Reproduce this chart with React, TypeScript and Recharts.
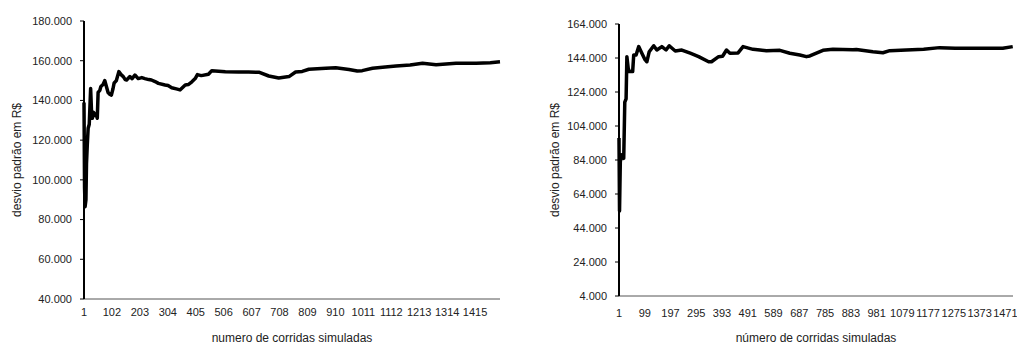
import React from "react";
import { LineChart, Line, XAxis, YAxis } from "recharts";

// ─── Data ─────────────────────────────────────────────────────────────────────

// left panel: run number vs standard deviation (R$)
const leftRuns = [
  1, 3, 5, 8, 10, 13, 16, 20, 25, 28, 31, 36, 40, 45, 49, 52, 58, 62, 70, 76,
  82, 88, 95, 100, 106, 110, 118, 127, 135, 143, 150, 155, 167, 175, 185, 197,
  210, 221, 235, 245, 258, 270, 294, 305, 318, 335, 348, 367, 378, 391, 403,
  411, 425, 451, 463, 512, 560, 596, 633, 669, 705, 742, 766, 790, 814, 875,
  911, 959, 989, 1007, 1044, 1090, 1129, 1180, 1225, 1274, 1346, 1419, 1470,
  1505,
];
const leftDesvio = [
  139000, 96000, 86500, 90000, 108000, 118000, 126000, 128000, 146000, 135000,
  131000, 134000, 132500, 133000, 131000, 144000, 145000, 147000, 148000,
  150000, 147000, 144000, 143000, 142700, 146000, 148800, 150000, 154500,
  153000, 152000, 150500, 150300, 152000, 151000, 152800, 151000, 151500,
  151000, 150500, 150300, 149500, 148600, 147800, 147500, 146400, 145800,
  145300, 147800, 148000, 149400, 151000, 153000, 152500, 153200, 155000,
  154500, 154300, 154300, 154200, 152300, 151300, 152000, 154300, 154600,
  155700, 156200, 156500, 155600, 154800, 155000, 156200, 156800, 157300,
  157800, 158700, 158000, 158700, 158700, 159000, 159500,
];
const leftXTicks = [
  1, 102, 203, 304, 405, 506, 607, 708, 809, 910, 1011, 1112, 1213, 1314, 1415,
];
const leftYTicks = [40000, 60000, 80000, 100000, 120000, 140000, 160000, 180000];

// right panel
const rightRuns = [
  1, 3, 6, 12, 19, 23, 28, 31, 36, 40, 53, 57, 66, 76, 88, 100, 107, 116, 133,
  145, 164, 180, 192, 215, 240, 272, 304, 342, 353, 380, 395, 410, 423, 454,
  473, 511, 537, 562, 613, 651, 689, 714, 727, 777, 815, 891, 904, 967, 1005,
  1031, 1094, 1160, 1221, 1280, 1347, 1400, 1461, 1499,
];
const rightDesvio = [
  97000, 54000, 83000, 87000, 85000, 118000, 120000, 144800, 138000, 136000,
  136000, 145800, 145800, 150700, 146800, 143000, 141800, 147700, 151200,
  148700, 150700, 148700, 151200, 148100, 148700, 146800, 144800, 141800,
  141800, 144800, 145000, 148700, 146800, 147000, 150700, 149100, 148700,
  148300, 148500, 146800, 145800, 144800, 145200, 148500, 149100, 148800,
  149000, 147700, 147100, 148300, 148700, 149200, 150100, 149800, 149700,
  149800, 149700, 150700,
];
const rightXTicks = [
  1, 99, 197, 295, 393, 491, 589, 687, 785, 883, 981, 1079, 1177, 1275, 1373,
  1471,
];
const rightYTicks = [
  4000, 24000, 44000, 64000, 84000, 104000, 124000, 144000, 164000,
];

// ─── Helpers ──────────────────────────────────────────────────────────────────

const FONT = "'Liberation Sans', Arial, sans-serif";

// 164000 -> "164.000"
function formatReais(v: number): string {
  return `${Math.round(v / 1000)}.000`;
}

function toRows(runs: number[], values: number[]) {
  return runs.map((run, i) => ({ run, desvio: values[i] }));
}

interface PanelProps {
  left: number;
  width: number;
  top: number;
  bottom: number;
  right: number;
  runs: number[];
  values: number[];
  xTicks: number[];
  yTicks: number[];
  xMax: number;
  xTitle: string;
  xTickMargin: number;
  yLabelOffset: number;
}

function Panel(p: PanelProps) {
  const data = toRows(p.runs, p.values);
  return (
    <div style={{ position: "absolute", left: p.left, top: 0 }}>
      <LineChart
        width={p.width}
        height={347}
        data={data}
        margin={{ top: p.top, right: p.right, bottom: 0, left: 0 }}
      >
        <XAxis
          dataKey="run"
          type="number"
          domain={[1, p.xMax]}
          ticks={p.xTicks}
          interval={0}
          height={347 - p.bottom}
          tickLine={false}
          tickSize={0}
          tickMargin={p.xTickMargin}
          axisLine={{ stroke: "#555", strokeWidth: 1 }}
          tick={{ fontSize: 11, fill: "#222", fontFamily: FONT }}
          label={{
            value: p.xTitle,
            position: "insideBottom",
            offset: 5,
            style: { fontSize: 12, fill: "#222", fontFamily: FONT },
          }}
        />
        <YAxis
          type="number"
          domain={[p.yTicks[0], p.yTicks[p.yTicks.length - 1]]}
          ticks={p.yTicks}
          interval={0}
          width={84}
          tickSize={4}
          tickMargin={8}
          tickFormatter={formatReais}
          axisLine={{ stroke: "#000", strokeWidth: 2 }}
          tickLine={{ stroke: "#000" }}
          tick={{ fontSize: 11, fill: "#222", fontFamily: FONT }}
          label={{
            value: "desvio padrão em R$",
            angle: -90,
            position: "insideLeft",
            offset: p.yLabelOffset,
            style: {
              fontSize: 12,
              fill: "#222",
              fontFamily: FONT,
              textAnchor: "middle",
            },
          }}
        />
        <Line
          type="linear"
          dataKey="desvio"
          stroke="#000"
          strokeWidth={3.5}
          strokeLinejoin="round"
          dot={false}
          isAnimationActive={false}
        />
      </LineChart>
    </div>
  );
}

export default function App() {
  return (
    <div
      style={{
        position: "absolute",
        left: 0,
        top: 0,
        width: 1017,
        height: 347,
        background: "#fff",
      }}
    >
      <Panel
        left={0}
        width={510}
        top={21}
        bottom={299}
        right={10}
        runs={leftRuns}
        values={leftDesvio}
        xTicks={leftXTicks}
        yTicks={leftYTicks}
        xMax={1505}
        xTitle="numero de corridas simuladas"
        xTickMargin={9}
        yLabelOffset={17}
      />
      <Panel
        left={535}
        width={482}
        top={24}
        bottom={296}
        right={4}
        runs={rightRuns}
        values={rightDesvio}
        xTicks={rightXTicks}
        yTicks={rightYTicks}
        xMax={1500}
        xTitle="número de corridas simuladas"
        xTickMargin={13}
        yLabelOffset={20}
      />
    </div>
  );
}
